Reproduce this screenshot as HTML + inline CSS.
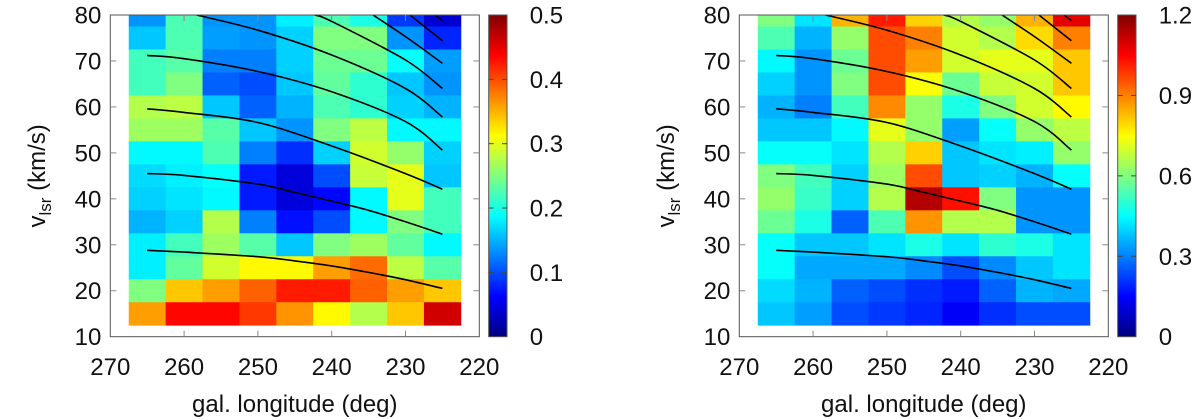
<!DOCTYPE html>
<html><head><meta charset="utf-8"><style>
html,body{margin:0;padding:0;background:#fff;width:1200px;height:419px;overflow:hidden}
text{font-family:"Liberation Sans",Arial,sans-serif;fill:#111}
</style></head><body>
<svg id="svg" width="1200" height="419" viewBox="0 0 1200 419" xmlns="http://www.w3.org/2000/svg"></svg>
<script>
const lonCenters=[265,260,255,250,245,240,235,230,225];
const velCenters=[80,75,70,65,60,55,50,45,40,35,30,25,20,15];
const leftT=[
[0.27,0.45,0.27,0.27,0.36,0.45,0.40,0.18,0.08],
[0.32,0.45,0.28,0.27,0.33,0.5,0.5,0.27,0.16],
[0.44,0.46,0.25,0.25,0.33,0.48,0.48,0.38,0.28],
[0.44,0.5,0.22,0.2,0.32,0.47,0.42,0.32,0.27],
[0.55,0.56,0.32,0.22,0.3,0.45,0.42,0.33,0.30],
[0.53,0.53,0.46,0.32,0.27,0.5,0.56,0.37,0.37],
[0.37,0.37,0.45,0.25,0.17,0.33,0.58,0.52,0.33],
[0.34,0.36,0.38,0.15,0.09,0.2,0.57,0.60,0.32],
[0.33,0.35,0.37,0.15,0.09,0.13,0.37,0.60,0.44],
[0.3,0.33,0.55,0.25,0.14,0.2,0.37,0.5,0.44],
[0.36,0.44,0.53,0.46,0.32,0.5,0.53,0.47,0.37],
[0.36,0.47,0.58,0.63,0.63,0.72,0.77,0.56,0.46],
[0.5,0.68,0.72,0.78,0.85,0.85,0.78,0.72,0.68],
[0.72,0.87,0.87,0.82,0.73,0.63,0.55,0.68,0.92]];
const rightT=[
[0.5,0.35,0.7,0.85,0.67,0.55,0.52,0.7,0.9],
[0.45,0.3,0.52,0.8,0.75,0.58,0.55,0.66,0.75],
[0.37,0.27,0.48,0.8,0.72,0.58,0.6,0.6,0.68],
[0.33,0.27,0.5,0.8,0.62,0.48,0.57,0.58,0.68],
[0.3,0.25,0.44,0.74,0.52,0.4,0.5,0.58,0.63],
[0.32,0.32,0.37,0.6,0.52,0.28,0.38,0.52,0.56],
[0.38,0.38,0.35,0.55,0.67,0.32,0.35,0.36,0.52],
[0.5,0.44,0.33,0.53,0.8,0.32,0.33,0.3,0.38],
[0.52,0.43,0.33,0.55,0.95,0.86,0.5,0.27,0.27],
[0.48,0.4,0.22,0.45,0.73,0.55,0.55,0.27,0.27],
[0.38,0.32,0.32,0.35,0.4,0.35,0.42,0.4,0.35],
[0.38,0.29,0.29,0.29,0.26,0.2,0.26,0.32,0.35],
[0.34,0.3,0.22,0.2,0.17,0.15,0.22,0.3,0.29],
[0.32,0.28,0.2,0.18,0.16,0.12,0.17,0.2,0.2]];
const curves=[
[[265,28.8],[260,28.4],[250,27.4],[245,26.5],[240,25.4],[235,24.0],[230,22.4],[225,20.5]],
[[265,45.5],[260,45.1],[250,43.2],[245,41.4],[240,39.5],[235,37.5],[230,35.0],[225,32.3]],
[[265,59.6],[260,58.8],[250,56.6],[240,51.5],[230,45.5],[225,42.1]],
[[265,71.2],[260,70.5],[250,67.7],[240,63.3],[230,56.8],[225,50.6]],
[[258.3,80],[250,76.7],[240,71.3],[230,64.0],[225,57.8]],
[[242.3,80],[240,78.6],[230,70.2],[225,64]],
[[234.4,80],[230,75.3],[225,69.5]],
[[229.4,80],[225,74.4]],
[[226,80],[225,78.8]]];
const xTicks=[270,260,250,240,230,220];
const yTicks=[10,20,30,40,50,60,70,80];
const leftCbTicks=[0,0.1,0.2,0.3,0.4,0.5];
const rightCbTicks=[0,0.3,0.6,0.9,1.2];

const NS="http://www.w3.org/2000/svg";
const svg=document.getElementById('svg');
function mk(tag,attrs,parent){const e=document.createElementNS(NS,tag);for(const k in attrs)e.setAttribute(k,attrs[k]);(parent||svg).appendChild(e);return e;}
function jet(t){t=Math.max(0,Math.min(1,t));
 const r=Math.max(0,Math.min(1,Math.min(4*t-1.5,-4*t+4.5)));
 const g=Math.max(0,Math.min(1,Math.min(4*t-0.5,-4*t+3.5)));
 const b=Math.max(0,Math.min(1,Math.min(4*t+0.5,-4*t+2.5)));
 return `rgb(${Math.round(r*255)},${Math.round(g*255)},${Math.round(b*255)})`;}
function smooth(pts){
 if(pts.length<3)return 'M'+pts.map(p=>p[0].toFixed(1)+','+p[1].toFixed(1)).join('L');
 let d='M'+pts[0][0].toFixed(1)+','+pts[0][1].toFixed(1);
 for(let i=0;i<pts.length-1;i++){
  const p0=pts[Math.max(0,i-1)],p1=pts[i],p2=pts[i+1],p3=pts[Math.min(pts.length-1,i+2)];
  const c1=[p1[0]+(p2[0]-p0[0])/6,p1[1]+(p2[1]-p0[1])/6];
  const c2=[p2[0]-(p3[0]-p1[0])/6,p2[1]-(p3[1]-p1[1])/6];
  d+=`C${c1[0].toFixed(1)},${c1[1].toFixed(1)} ${c2[0].toFixed(1)},${c2[1].toFixed(1)} ${p2[0].toFixed(1)},${p2[1].toFixed(1)}`;
 }
 return d;}

function panel(ox,vals,maxV,cbTicks,fmt,idx){
 const L=ox+110.3,R=ox+479.3,T=15,B=336.7;
 const X=d=>L+(270-d)/50*(R-L);
 const Y=v=>B-(v-10)/70*(B-T);
 const g=mk('g',{});
 
 
 const cid='clip'+idx;
 const cp=mk('clipPath',{id:cid},g);mk('rect',{x:L,y:T,width:R-L,height:B-T},cp);
 const hm=mk('g',{'clip-path':`url(#${cid})`},g);
 
 
 velCenters.forEach((v,i)=>lonCenters.forEach((d,j)=>{
  const x1=X(d+2.5),x2=X(d-2.5),y1=Y(v+2.5),y2=Y(v-2.5);
  const r=mk('rect',{x:x1,y:y1,width:x2-x1+0.4,height:y2-y1+0.4,fill:jet(vals[i][j])},hm);
  
  
 }));
 curves.forEach(c=>{
  const p=mk('path',{d:smooth(c.map(q=>[X(q[0]),Y(q[1])])),fill:'none',stroke:'#000','stroke-width':1.6},hm);
  
  
 });
 const frame=mk('rect',{x:L,y:T,width:R-L,height:B-T,fill:'none',stroke:'#555','stroke-width':1},g);
 
 
 xTicks.forEach(d=>{
  const x=X(d);
  if(d<270&&d>220){mk('line',{x1:x,x2:x,y1:B,y2:B-6,stroke:'#888'},g);mk('line',{x1:x,x2:x,y1:T,y2:T+6,stroke:'#888'},g);}
  const t=mk('text',{x:x,y:375,'font-size':24,'text-anchor':'middle'},g);t.textContent=d;
  
  
 });
 yTicks.forEach(v=>{
  const y=Y(v);
  if(v>10&&v<80){mk('line',{x1:L,x2:L+6,y1:y,y2:y,stroke:'#888'},g);mk('line',{x1:R,x2:R-6,y1:y,y2:y,stroke:'#888'},g);}
  const t=mk('text',{x:L-9,y:y+8.5,'font-size':24,'text-anchor':'end'},g);t.textContent=v;
  
  
 });
 const xt=mk('text',{x:(L+R)/2,y:412,'font-size':24,'text-anchor':'middle'},g);xt.textContent='gal. longitude (deg)';
 
 
 const yt=mk('text',{x:0,y:0,'font-size':24,'text-anchor':'middle',transform:`translate(${ox+45},${(T+B)/2}) rotate(-90)`},g);
 
 
 yt.appendChild(document.createTextNode('v'));
 const sub=mk('tspan',{'font-size':17,dy:6},yt);sub.textContent='lsr';
 const rest=mk('tspan',{dy:-6},yt);rest.textContent=' (km/s)';
 const cx=ox+488.7,cw=18.3;
 const cb=mk('g',{},g);
 
 
 const gid='grad'+idx;
 const lg=mk('linearGradient',{id:gid,x1:0,y1:1,x2:0,y2:0},cb);
 for(let k=0;k<=16;k++)mk('stop',{offset:k/16,'stop-color':jet(k/16)},lg);
 mk('rect',{x:cx,y:T,width:cw,height:B-T,fill:`url(#${gid})`,stroke:'#555','stroke-width':1},cb);
 cbTicks.forEach(v=>{
  const y=B-v/maxV*(B-T);
  if(v>0&&v<maxV){mk('line',{x1:cx,x2:cx+5,y1:y,y2:y,stroke:'#444'},cb);mk('line',{x1:cx+cw,x2:cx+cw-5,y1:y,y2:y,stroke:'#444'},cb);}
  const t=mk('text',{x:cx+41,y:y+8.5,'font-size':24},cb);t.textContent=fmt(v);
  
  
 });
}
panel(0,leftT,0.5,leftCbTicks,v=>v===0?'0':v.toFixed(1),1);
panel(629,rightT,1.2,rightCbTicks,v=>v===0?'0':v.toFixed(1),2);
</script>
</body></html>
